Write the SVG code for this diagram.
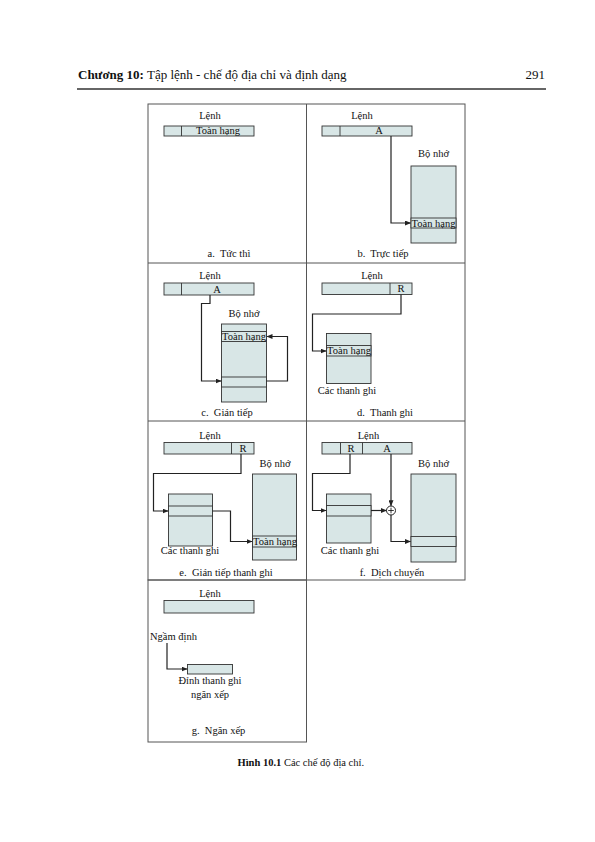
<svg xmlns="http://www.w3.org/2000/svg" width="595" height="842" viewBox="0 0 595 842">
<style>
text{font-family:"Liberation Serif","Times New Roman",serif;font-size:10.5px;fill:#111;white-space:pre}
.c{text-anchor:middle}
.box{fill:#d8e6e6;stroke:#333;stroke-width:0.9}
.ln{fill:none;stroke:#333;stroke-width:0.9}
.frame{fill:none;stroke:#555;stroke-width:1}
.con{fill:none;stroke:#222;stroke-width:1.2}
.hd{font-size:13px}
.cap{font-size:10.5px}
</style>
<defs>
<marker id="ah" markerWidth="6" markerHeight="5" refX="5.5" refY="2.5" orient="auto" markerUnits="userSpaceOnUse">
<path d="M0,0 L6,2.5 L0,5 Z" fill="#222"/>
</marker>
</defs>
<rect width="595" height="842" fill="#fff"/>

<g id="header">
<text class="hd" x="78" y="79"><tspan font-weight="bold">Chương 10:</tspan> Tập lệnh - chế độ địa chỉ và định dạng</text>
<text class="hd" x="545" y="79" text-anchor="end">291</text>
<line x1="77" y1="89" x2="546" y2="89" stroke="#333" stroke-width="1.5"/>
</g>

<g id="frames">
<rect class="frame" x="148" y="104" width="317" height="476"/>
<line class="frame" x1="306.5" y1="104" x2="306.5" y2="580"/>
<line class="frame" x1="148" y1="263" x2="465" y2="263"/>
<line class="frame" x1="148" y1="421" x2="465" y2="421"/>
<rect class="frame" x="148" y="580" width="158.5" height="162"/>
</g>

<!-- Panel a -->
<g id="a-instr">
<text class="c" x="210" y="119">Lệnh</text>
<rect class="box" x="164" y="126" width="90" height="10"/>
<line class="ln" x1="181.5" y1="126" x2="181.5" y2="136"/>
<text class="c" x="218" y="134">Toàn hạng</text>
</g>
<text id="a-label" class="c" x="229" y="257">a.  Tức thì</text>

<!-- Panel b -->
<g id="b-instr">
<text class="c" x="362" y="119">Lệnh</text>
<rect class="box" x="322" y="126" width="90" height="10"/>
<line class="ln" x1="340" y1="126" x2="340" y2="136"/>
<text class="c" x="379" y="134">A</text>
</g>
<g id="b-mem">
<text class="c" x="433.5" y="157">Bộ nhớ</text>
<rect class="box" x="411" y="166" width="45" height="77"/>
<rect class="box" x="411" y="218" width="45" height="10"/>
<text class="c" x="433.5" y="226.5">Toàn hạng</text>
</g>
<text id="b-label" class="c" x="383" y="257">b.  Trực tiếp</text>

<!-- Panel c -->
<g id="c-instr">
<text class="c" x="210" y="279">Lệnh</text>
<rect class="box" x="164" y="283" width="90" height="12"/>
<line class="ln" x1="181.5" y1="283" x2="181.5" y2="295"/>
<text class="c" x="217" y="292.5">A</text>
</g>
<g id="c-mem">
<text class="c" x="244" y="317">Bộ nhớ</text>
<rect class="box" x="221.5" y="324" width="45" height="78"/>
<rect class="box" x="221.5" y="331.5" width="45" height="10"/>
<text class="c" x="244" y="339.5">Toàn hạng</text>
<rect class="box" x="221.5" y="377" width="45" height="10"/>
</g>
<text id="c-label" class="c" x="227" y="416">c.  Gián tiếp</text>

<!-- Panel d -->
<g id="d-instr">
<text class="c" x="372" y="279">Lệnh</text>
<rect class="box" x="322" y="283" width="90" height="11.5"/>
<line class="ln" x1="390" y1="283" x2="390" y2="294.5"/>
<text class="c" x="401" y="292">R</text>
</g>
<g id="d-reg">
<rect class="box" x="326.5" y="333.5" width="44.5" height="50"/>
<rect class="box" x="326.5" y="345.5" width="44.5" height="10.5"/>
<text class="c" x="349" y="354">Toàn hạng</text>
<text class="c" x="347" y="394">Các thanh ghi</text>
</g>
<text id="d-label" class="c" x="385" y="416">d.  Thanh ghi</text>

<!-- Panel e -->
<g id="e-instr">
<text class="c" x="210" y="438.5">Lệnh</text>
<rect class="box" x="164" y="442.5" width="90" height="11.5"/>
<line class="ln" x1="231.5" y1="442.5" x2="231.5" y2="454"/>
<text class="c" x="243" y="451.5">R</text>
</g>
<g id="e-reg">
<rect class="box" x="168.5" y="494" width="44" height="52"/>
<rect class="box" x="168.5" y="506" width="44" height="10"/>
<text class="c" x="190" y="553.5">Các thanh ghi</text>
</g>
<g id="e-mem">
<text class="c" x="275" y="467">Bộ nhớ</text>
<rect class="box" x="252.5" y="474" width="44" height="86"/>
<rect class="box" x="252.5" y="536" width="44" height="11"/>
<text class="c" x="275" y="544.5">Toàn hạng</text>
</g>
<text id="e-label" class="c" x="226" y="576">e.  Gián tiếp thanh ghi</text>

<!-- Panel f -->
<g id="f-instr">
<text class="c" x="368.5" y="438.5">Lệnh</text>
<rect class="box" x="322" y="442.5" width="90" height="11.5"/>
<line class="ln" x1="340.5" y1="442.5" x2="340.5" y2="454"/>
<line class="ln" x1="362.5" y1="442.5" x2="362.5" y2="454"/>
<text class="c" x="351" y="451.5">R</text>
<text class="c" x="387" y="451.5">A</text>
</g>
<g id="f-reg">
<rect class="box" x="326.5" y="494" width="44.5" height="49"/>
<rect class="box" x="326.5" y="505.5" width="44.5" height="10.5"/>
<text class="c" x="350" y="553.5">Các thanh ghi</text>
</g>
<g id="f-adder">
<circle cx="391" cy="510.5" r="4.5" fill="#fff" stroke="#222" stroke-width="1"/>
<path d="M388.2 510.5 H393.8 M391 507.7 V513.3" stroke="#222" stroke-width="0.9"/>
</g>
<g id="f-mem">
<text class="c" x="433.5" y="467">Bộ nhớ</text>
<rect class="box" x="411" y="474" width="45" height="88"/>
<rect class="box" x="411" y="536.5" width="45" height="10"/>
</g>
<text id="f-label" class="c" x="392" y="576">f.  Dịch chuyển</text>

<!-- Panel g -->
<g id="g-instr">
<text class="c" x="210" y="596.5">Lệnh</text>
<rect class="box" x="164" y="600.5" width="90" height="12.5"/>
</g>
<text id="g-implied" class="c" x="173.5" y="640">Ngầm định</text>
<g id="g-stack">
<rect class="box" x="187.5" y="664.5" width="45" height="9.5"/>
<text class="c" x="210" y="684">Đỉnh thanh ghi</text>
<text class="c" x="210" y="698">ngăn xếp</text>
</g>
<text id="g-label" class="c" x="218.5" y="734">g.  Ngăn xếp</text>

<g id="connectors">
<path class="con" d="M391 136 V223 H410.5" marker-end="url(#ah)"/>
<path class="con" d="M210 295 V303.5 H201.5 V381 H221" marker-end="url(#ah)"/>
<path class="con" d="M266.5 381 H287.5 V336.5 H267" marker-end="url(#ah)"/>
<path class="con" d="M401 294.5 V314 H312.5 V351 H326" marker-end="url(#ah)"/>
<path class="con" d="M241 454 V473.5 H153.5 V511 H168" marker-end="url(#ah)"/>
<path class="con" d="M212.5 511 H230.5 V541.5 H252" marker-end="url(#ah)"/>
<path class="con" d="M350 454 V473.5 H312.5 V510.5 H326" marker-end="url(#ah)"/>
<path class="con" d="M371 510.5 H386.3" marker-end="url(#ah)"/>
<path class="con" d="M391 454 V505.8" marker-end="url(#ah)"/>
<path class="con" d="M391 515 V541.5 H410.5" marker-end="url(#ah)"/>
<path class="con" d="M167 643 V669 H187" marker-end="url(#ah)"/>
</g>

<g id="caption">
<text class="cap" x="237.5" y="766"><tspan font-weight="bold">Hình 10.1</tspan> Các chế độ địa chỉ.</text>
</g>
</svg>
